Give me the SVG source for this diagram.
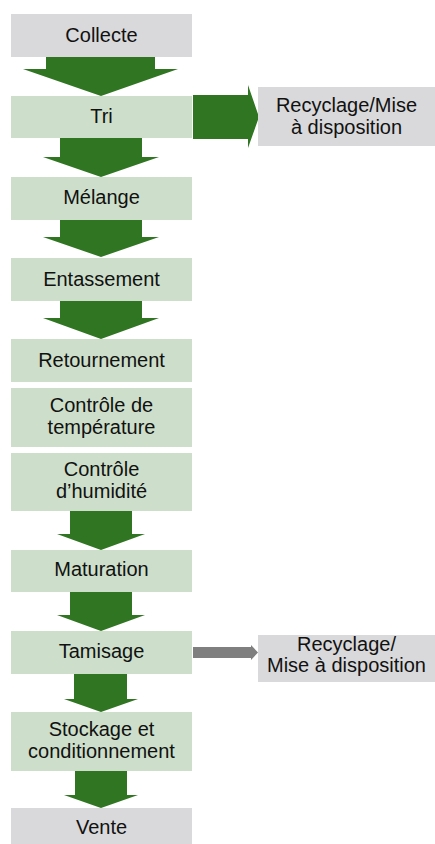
<svg xmlns="http://www.w3.org/2000/svg" width="435" height="844" viewBox="0 0 435 844">
<style>
.g{fill:#d9d9db}
.l{fill:#cddfca}
.a{fill:#2f7522}
.ga{fill:#7f7f7f}
text{font-family:"Liberation Sans",Arial,sans-serif;font-size:20px;fill:#111;text-anchor:middle}
</style>
<rect width="435" height="844" fill="#fff"/>
<g id="connectors">
<polygon class="a" points="46,57 155,57 155,69 178,69 101,96 23,69 46,69"/>
<polygon class="a" points="193,95 248,95 248,85 259,117 248,148 248,139 193,139"/>
<polygon class="a" points="60,138 142,138 142,157 159,157 101,177 43,157 60,157"/>
<polygon class="a" points="60,220 142,220 142,237 159,237 101,257 43,237 60,237"/>
<polygon class="a" points="60,301 142,301 142,318 159,318 101,339 43,318 60,318"/>
<polygon class="a" points="70,511 132,511 132,534 145,534 101,550 57,534 70,534"/>
<polygon class="a" points="70,592 132,592 132,615 145,615 101,631 57,615 70,615"/>
<polygon class="ga" points="193,647 251,647 251,645 258,652.5 251,660 251,658 193,658"/>
<polygon class="a" points="74,674 127,674 127,699 138,699 101,712 64,699 74,699"/>
<polygon class="a" points="75,771 127,771 127,795 138,795 101,808 64,795 75,795"/>
</g>
<g id="collecte"><rect class="g" x="11" y="14" width="181" height="43"/><text x="101.5" y="42">Collecte</text></g>
<g id="tri"><rect class="l" x="11" y="96" width="181" height="42"/><text x="101.5" y="123">Tri</text></g>
<g id="recyclage1"><rect class="g" x="258" y="87" width="177" height="59"/><text x="346.5" y="112">Recyclage/Mise</text><text x="346.5" y="134">à disposition</text></g>
<g id="melange"><rect class="l" x="11" y="177" width="181" height="43"/><text x="101.5" y="204">Mélange</text></g>
<g id="entassement"><rect class="l" x="11" y="258" width="181" height="43"/><text x="101.5" y="286">Entassement</text></g>
<g id="retournement"><rect class="l" x="11" y="339" width="181" height="43"/><text x="101.5" y="367">Retournement</text></g>
<g id="temperature"><rect class="l" x="11" y="388" width="181" height="59"/><text x="101.5" y="412">Contrôle de</text><text x="101.5" y="434">température</text></g>
<g id="humidite"><rect class="l" x="11" y="453" width="181" height="58"/><text x="101.5" y="476">Contrôle</text><text x="101.5" y="498">d’humidité</text></g>
<g id="maturation"><rect class="l" x="11" y="550" width="181" height="42"/><text x="101.5" y="576">Maturation</text></g>
<g id="tamisage"><rect class="l" x="11" y="631" width="181" height="43"/><text x="101.5" y="658">Tamisage</text></g>
<g id="recyclage2"><rect class="g" x="258" y="635" width="177" height="47"/><text x="346.5" y="651">Recyclage/</text><text x="346.5" y="672">Mise à disposition</text></g>
<g id="stockage"><rect class="l" x="11" y="712" width="181" height="59"/><text x="101.5" y="736">Stockage et</text><text x="101.5" y="758">conditionnement</text></g>
<g id="vente"><rect class="g" x="11" y="808" width="181" height="36"/><text x="101.5" y="834">Vente</text></g>
</svg>
